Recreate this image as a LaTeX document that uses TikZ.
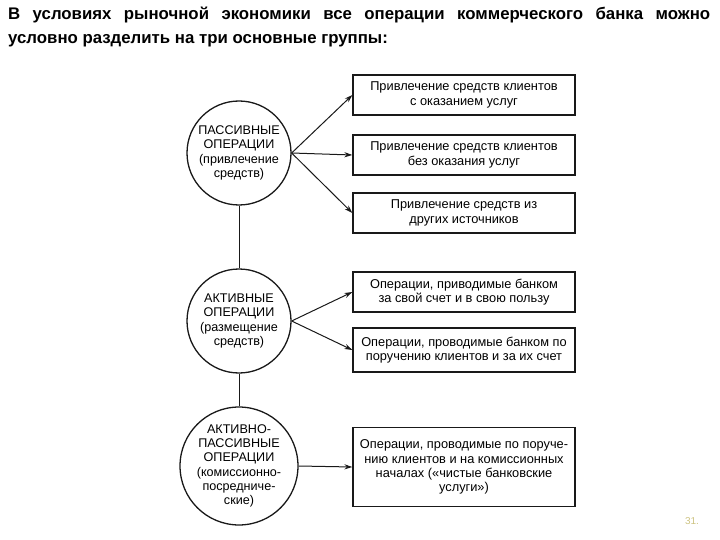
\documentclass[tikz,border=0pt]{standalone}
\usepackage{fontspec}
\setmainfont{Liberation Sans}
\usepackage{xcolor}
\usepackage{tikz}
\usetikzlibrary{arrows.meta, positioning}
\definecolor{linegray}{RGB}{25,25,25}
\definecolor{pagenum}{RGB}{205,195,130}

\begin{document}
\begin{tikzpicture}[
    x=1pt, y=-1pt,
    opcircle/.style={draw=linegray, line width=1.3pt, circle, minimum size=104pt, inner sep=0pt, align=center, font=\fontsize{12.6}{14.2}\selectfont},
    box/.style={draw=linegray, line width=1.3pt, minimum width=222pt, minimum height=40pt, inner sep=2pt, align=center, font=\fontsize{12.8}{14.2}\selectfont},
    arrow/.style={-{Stealth[length=2.8mm, width=1.8mm]}, line width=1pt, draw=linegray}
]
    \useasboundingbox (0,0) rectangle (720,540);
    \node[anchor=north west, text width=702pt, align=justify, inner sep=0pt, font=\bfseries\fontsize{16.8}{24}\selectfont] (title) at (8,7)
        {В условиях рыночной экономики все операции коммерческого банка можно\linebreak условно разделить на три основные группы:};

    \node[opcircle] (pass) at (239,153) {ПАССИВНЫЕ\\ОПЕРАЦИИ\\(привлечение\\средств)};
    \node[opcircle] (act) at (239,321) {АКТИВНЫЕ\\ОПЕРАЦИИ\\(размещение\\средств)};
    \node[opcircle] (actpass) at (239,466) {АКТИВНО-\\ПАССИВНЫЕ\\ОПЕРАЦИИ\\(комиссионно-\\посредниче-\\ские)};

    \node[box] (pass1) at (464,95) {Привлечение средств клиентов\\с оказанием услуг};
    \node[box] (pass2) at (464,155) {Привлечение средств клиентов\\без оказания услуг};
    \node[box] (pass3) at (464,213) {Привлечение средств из\\других источников};
    \node[box] (act1) at (464,292) {Операции, приводимые банком\\за свой счет и в свою пользу};
    \node[box, minimum height=44pt] (act2) at (464,350) {Операции, проводимые банком по\\поручению клиентов и за их счет};
    \node[box, minimum height=79pt] (actpass1) at (464,467) {Операции, проводимые по поруче-\\нию клиентов и на комиссионных\\началах («чистые банковские\\услуги»)};

    \draw[line width=1pt, linegray] (pass) -- (act);
    \draw[line width=1pt, linegray] (act) -- (actpass);

    \draw[arrow] (pass.east) -- (pass1.west);
    \draw[arrow] (pass.east) -- (pass2.west);
    \draw[arrow] (pass.east) -- (pass3.west);
    \draw[arrow] (act.east) -- (act1.west);
    \draw[arrow] (act.east) -- (act2.west);
    \draw[arrow] (actpass.east) -- (actpass1.west);

    \node[text=pagenum, font=\fontsize{10}{12}\selectfont] (page) at (692,521) {31.};
\end{tikzpicture}
\end{document}
